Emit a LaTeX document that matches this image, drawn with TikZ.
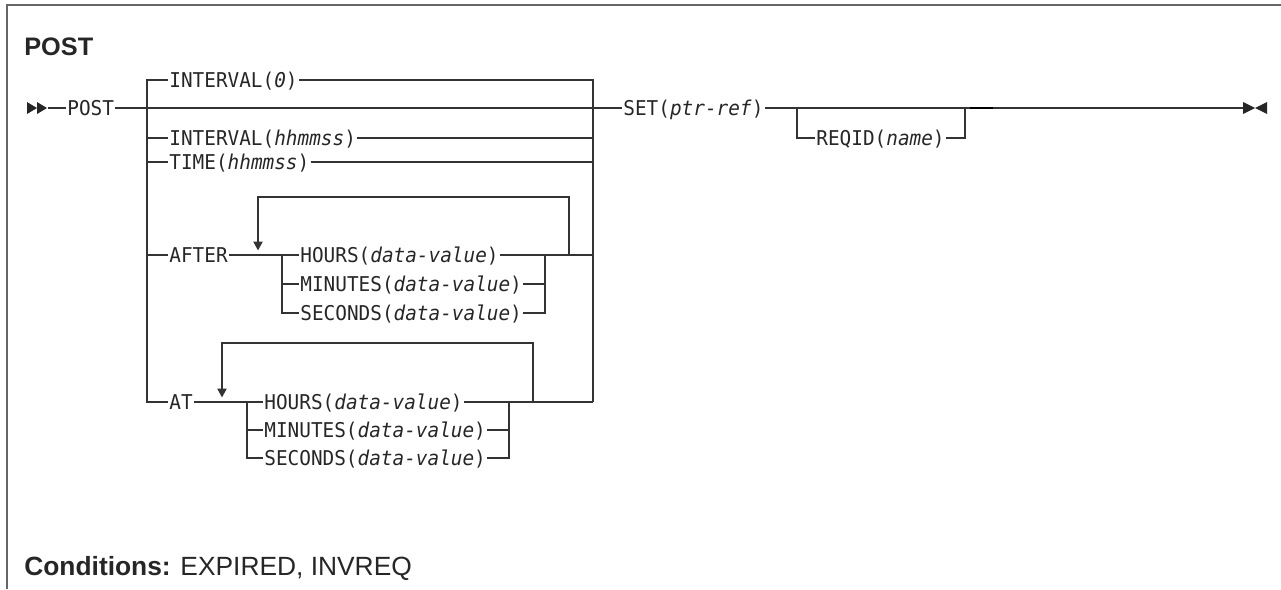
\documentclass[tikz,border=0pt]{standalone}
\usepackage{fontspec}
\setmonofont[FakeStretch=0.95]{DejaVu Sans Mono}
\setsansfont{Liberation Sans}
\usetikzlibrary{arrows.meta,calc}

\tikzset{
  rail/.style={line width=0.9pt, draw=black!80},
  kw/.style={font=\ttfamily\fontsize{11.6}{13}\selectfont, inner xsep=0.6pt, inner ysep=0pt,
    text height=8.4pt, text depth=0pt, anchor=west, text=black!85},
  loopback/.style={rail, -{Triangle[width=5.2pt,length=5pt]}, shorten >=2.6pt},
  frame/.style={line width=1pt, draw=black!60}
}

\begin{document}
\begin{tikzpicture}[x=0.02cm, y=-0.02cm]
    \useasboundingbox (0,0) rectangle (1281,589);
    % Frame
    \draw[frame] (7,589) -- (7,5) -- (1281,5);
    % Title and conditions
    \node[anchor=west, inner sep=0pt, text height=10.4pt, text depth=0pt,
          font=\sffamily\bfseries\fontsize{14.4}{17}\selectfont, text=black!85] (ttl) at (24,46) {POST};
    \node[anchor=west, inner sep=0pt, text height=10.8pt, text depth=0pt,
          font=\sffamily\fontsize{15}{18}\selectfont, text=black!85] (cond) at (24,566)
          {\textbf{Conditions:} EXPIRED, INVREQ};

    % Start and end marks
    \fill[black!85] (27,102) -- (37,108) -- (27,114) -- cycle;
    \fill[black!85] (37,102) -- (47,108) -- (37,114) -- cycle;
    \fill[black!85] (1243,102) -- (1255,108) -- (1243,114) -- cycle;
    \fill[black!85] (1267,102) -- (1255,108) -- (1267,114) -- cycle;
    \coordinate (start) at (48,108);
    \coordinate (fin) at (1243,108);

    % Main line
    \node[kw] (post) at (66,108) {POST};
    \node[kw] (set) at (622,108) {SET(\textit{ptr-ref})};
    \draw[rail] (start) -- (post.west);
    \draw[rail] (post.east) -- (set.west);
    \draw[rail] (set.east) -- (fin);

    % Choice group
    \coordinate (gl) at (147,0);
    \coordinate (gr) at (593,0);
    \node[kw] (int0) at (168,80) {INTERVAL(\textit{0})};
    \node[kw] (inth) at (168,138) {INTERVAL(\textit{hhmmss})};
    \node[kw] (time) at (168,162) {TIME(\textit{hhmmss})};
    \node[kw] (after) at (168,255) {AFTER};
    \node[kw] (at) at (168,402) {AT};
    \draw[rail] (int0.west) -- (int0.west -| gl) -- (at.west -| gl) -- (at.west);
    \draw[rail] (int0.east) -- (int0.east -| gr) -- (at.west -| gr);
    \foreach \nm in {inth,time,after}
    \draw[rail] (\nm.west -| gl) -- (\nm.west);
    \foreach \nm in {inth,time}
    \draw[rail] (\nm.east) -- (\nm.east -| gr);

    % AFTER repeat group
    \coordinate (al) at (282,255);
    \coordinate (ar) at (545,255);
    \coordinate (alpl) at (258,255);
    \coordinate (alpr) at (569,255);
    \foreach \nm/\y/\t in {ahrs/255/HOURS, amin/284/MINUTES, asec/313/SECONDS}
    \node[kw] (\nm) at (299,\y) {\t(\textit{data-value})};
    \draw[rail] (after.east) -- (ahrs.west);
    \draw[rail] (al) |- (asec.west);
    \draw[rail] (amin.west -| al) -- (amin.west);
    \draw[rail] (ahrs.east) -- (ahrs.east -| gr);
    \draw[rail] (amin.east) -- (amin.east -| ar);
    \draw[rail] (asec.east) -| (ar);
    \draw[loopback] (alpr) -- ++(0,-58) -| (alpl);

    % AT repeat group
    \coordinate (tl) at (247,402);
    \coordinate (tr) at (509,402);
    \coordinate (tlpl) at (222,402);
    \coordinate (tlpr) at (533,402);
    \foreach \nm/\y/\t in {thrs/402/HOURS, tmin/430/MINUTES, tsec/458/SECONDS}
    \node[kw] (\nm) at (263,\y) {\t(\textit{data-value})};
    \draw[rail] (at.east) -- (thrs.west);
    \draw[rail] (tl) |- (tsec.west);
    \draw[rail] (tmin.west -| tl) -- (tmin.west);
    \draw[rail] (thrs.east) -- (thrs.east -| gr);
    \draw[rail] (tmin.east) -- (tmin.east -| tr);
    \draw[rail] (tsec.east) -| (tr);
    \draw[loopback] (tlpr) -- ++(0,-59) -| (tlpl);

    % Optional REQID
    \coordinate (rl) at (797,108);
    \coordinate (rr) at (965,108);
    \node[kw] (reqid) at (815,138) {REQID(\textit{name})};
    \draw[rail] (rl) |- (reqid.west);
    \draw[rail] (reqid.east) -| (rr);
    \draw[rail, line width=1.5pt, draw=black] ($(rr)+(5,0)$) -- ($(rr)+(28,0)$);
\end{tikzpicture}
\end{document}
